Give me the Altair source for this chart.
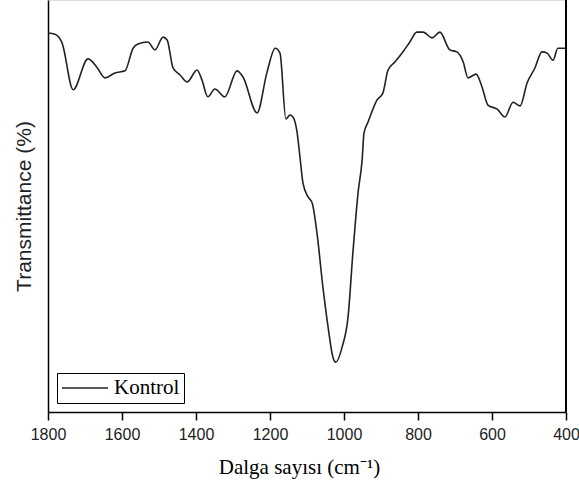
import altair as alt
import pandas as pd

# FTIR spectrum of the control sample (wavenumber in cm^-1, transmittance in %)
wavenumber = [
    1800, 1781, 1762, 1732, 1692, 1668, 1646, 1619, 1592, 1570, 1557, 1530,
    1511, 1489, 1478, 1462, 1443, 1424, 1397, 1384, 1368, 1349, 1322, 1289,
    1273, 1235, 1208, 1186, 1173, 1157, 1146, 1138, 1127, 1119, 1111, 1097,
    1086, 1073, 1057, 1043, 1030, 1022, 1005, 989, 976, 962, 951, 946, 935,
    930, 911, 895, 881, 862, 841, 822, 803, 786, 762, 741, 714, 695, 678,
    665, 643, 627, 611, 586, 565, 543, 524, 505, 484, 465, 451, 435, 422,
    403, 400,
]
transmittance = [
    92.0, 91.7, 89.6, 78.2, 85.7, 83.7, 81.1, 82.3, 82.8, 88.3, 89.3, 89.8,
    87.9, 91.0, 90.3, 83.5, 81.8, 80.1, 83.0, 80.6, 76.5, 78.4, 76.5, 82.8,
    81.3, 72.6, 82.5, 88.3, 87.1, 71.1, 72.1, 71.6, 68.0, 61.9, 55.6, 52.2,
    50.7, 43.4, 30.3, 20.6, 13.3, 12.1, 15.8, 23.1, 38.6, 53.2, 61.2, 67.7,
    70.4, 71.6, 75.7, 77.4, 83.0, 85.0, 87.4, 89.8, 92.2, 92.2, 90.8, 92.2,
    87.9, 87.4, 85.0, 81.1, 82.0, 78.9, 74.5, 73.5, 71.6, 75.2, 74.3, 79.9,
    83.5, 87.4, 87.1, 85.4, 88.3, 88.3, 88.3,
]
series_name = "Kontrol"

x_ticks = list(range(1800, 399, -100))

df = pd.DataFrame({
    "wavenumber": wavenumber,
    "transmittance": transmittance,
    "series": [series_name] * len(wavenumber),
})

x_scale = alt.Scale(domain=[1800, 400], nice=False, zero=False)
y_scale = alt.Scale(domain=[0, 100], nice=False, zero=False)

line = alt.Chart(df).mark_line(strokeWidth=1.6, interpolate="monotone").encode(
    x=alt.X(
        "wavenumber:Q",
        scale=x_scale,
        axis=alt.Axis(
            title="Dalga sayısı (cm⁻¹)",
            titleFont="Liberation Serif",
            titleFontSize=21,
            titleFontWeight="normal",
            titleColor="black",
            titlePadding=14,
            titleX=251,
            values=x_ticks,
            labelExpr="datum.value % 200 == 0 ? datum.label : ''",
            format="d",
            labelFont="Liberation Sans",
            labelFontSize=16,
            labelColor="#222",
            labelPadding=6,
            labelFlush=False,
            labelOverlap=False,
            ticks=True,
            tickSize={"condition": {"test": "datum.value % 200 == 0", "value": 8}, "value": 4},
            tickColor="black",
            tickWidth=1.5,
            domainColor="black",
            domainWidth=1.5,
            grid=False,
        ),
    ),
    y=alt.Y(
        "transmittance:Q",
        scale=y_scale,
        axis=alt.Axis(
            title="Transmittance (%)",
            titleFont="Liberation Sans",
            titleFontSize=21,
            titleFontWeight="normal",
            titleColor="#222",
            titlePadding=14,
            labels=False,
            ticks=False,
            domainColor="black",
            domainWidth=1.5,
            grid=False,
        ),
    ),
    color=alt.Color(
        "series:N",
        scale=alt.Scale(domain=[series_name], range=["#222"]),
        legend=alt.Legend(
            title=None,
            orient="bottom-left",
            offset=9,
            strokeColor="black",
            fillColor="white",
            padding=4,
            cornerRadius=0,
            symbolType="stroke",
            symbolSize=2116,
            symbolStrokeWidth=1.3,
            clipHeight=22,
            labelFont="Liberation Serif",
            labelFontSize=21,
            labelColor="black",
            labelOffset=5,
        ),
    ),
)

# right-hand frame line
right_edge = alt.Chart(df).mark_rule(color="black", strokeWidth=1.5).encode(
    x=alt.datum(400, scale=x_scale)
)

chart = alt.layer(line, right_edge).properties(
    width=518,
    height=412,
    padding={"left": 48, "top": 0, "right": 13, "bottom": 78},
    autosize=alt.AutoSizeParams(type="none"),
).configure_view(stroke=None).configure(background="white")

chart.save("out.html", embed_options={"renderer": "svg", "actions": False})
